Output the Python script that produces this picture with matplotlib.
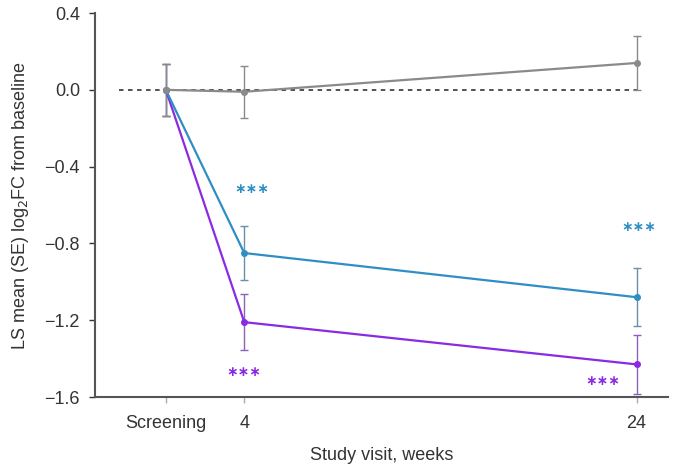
import matplotlib.pyplot as plt

plt.rcParams['font.family'] = ['Liberation Sans', 'DejaVu Sans']

weeks = [0, 4, 24]
tick_labels = ['Screening', '4', '24']

placebo = [0.0, -0.01, 0.14]
placebo_se = [0.135, 0.135, 0.14]
dose_low = [0.0, -0.85, -1.08]
dose_low_se = [0.135, 0.14, 0.15]
dose_high = [0.0, -1.21, -1.43]
dose_high_se = [0.135, 0.145, 0.155]

# significance marks: (week, y)
stars_low = [(4.4, -0.515), (24.1, -0.715)]
stars_high = [(4.0, -1.47), (22.3, -1.515)]

c_grey = '#8a8a8a'
c_blue = '#2f8fc4'
c_purple = '#8a2be2'

fig = plt.figure(figsize=(6.9, 4.66), dpi=100)
ax = fig.add_axes([0.138, 0.148, 0.830, 0.824])

ax.hlines(0, -2.4, 24, colors='#444444', linestyles=(0, (2.5, 2.5)), lw=1.3, zorder=1)

for y, se, col, ecol in [(dose_high, dose_high_se, c_purple, '#8a62b8'),
                         (dose_low, dose_low_se, c_blue, '#6a8fa8'),
                         (placebo, placebo_se, c_grey, '#8a8a8a')]:
    ax.errorbar(weeks, y, yerr=se, color=col, ecolor=ecol, lw=1.6,
                elinewidth=1.0, capsize=3, capthick=1.0, marker='o', ms=4, zorder=3)

for x, y in stars_low:
    ax.text(x, y, '\u2217\u2217\u2217', color=c_blue, ha='center', va='center',
            fontsize=10, fontweight='bold', family='DejaVu Sans')
for x, y in stars_high:
    ax.text(x, y, '\u2217\u2217\u2217', color=c_purple, ha='center', va='center',
            fontsize=10, fontweight='bold', family='DejaVu Sans')

ax.set_xlim(-3.6, 25.6)
ax.set_ylim(-1.6, 0.4)
ax.set_xticks(weeks)
ax.set_xticklabels(tick_labels)
ax.set_yticks([0.4, 0.0, -0.4, -0.8, -1.2, -1.6])
ax.set_yticklabels(['0.4', '0.0', '\u22120.4', '\u22120.8', '\u22121.2', '\u22121.6'])
ax.tick_params(labelsize=13, colors='#333333', length=4, width=1, pad=7)
ax.tick_params(axis='x', colors='#aaaaaa', labelcolor='#333333', pad=9)

for s in ['top', 'right']:
    ax.spines[s].set_visible(False)
for s in ['left', 'bottom']:
    ax.spines[s].set_color('#555555')
    ax.spines[s].set_linewidth(1.5)

ax.set_xlabel('Study visit, weeks', fontsize=13, color='#333333', labelpad=11)
ax.set_ylabel('LS mean (SE) log$_2$FC from baseline', fontsize=13, color='#333333', labelpad=10)

fig.savefig('out.png', dpi=100)
